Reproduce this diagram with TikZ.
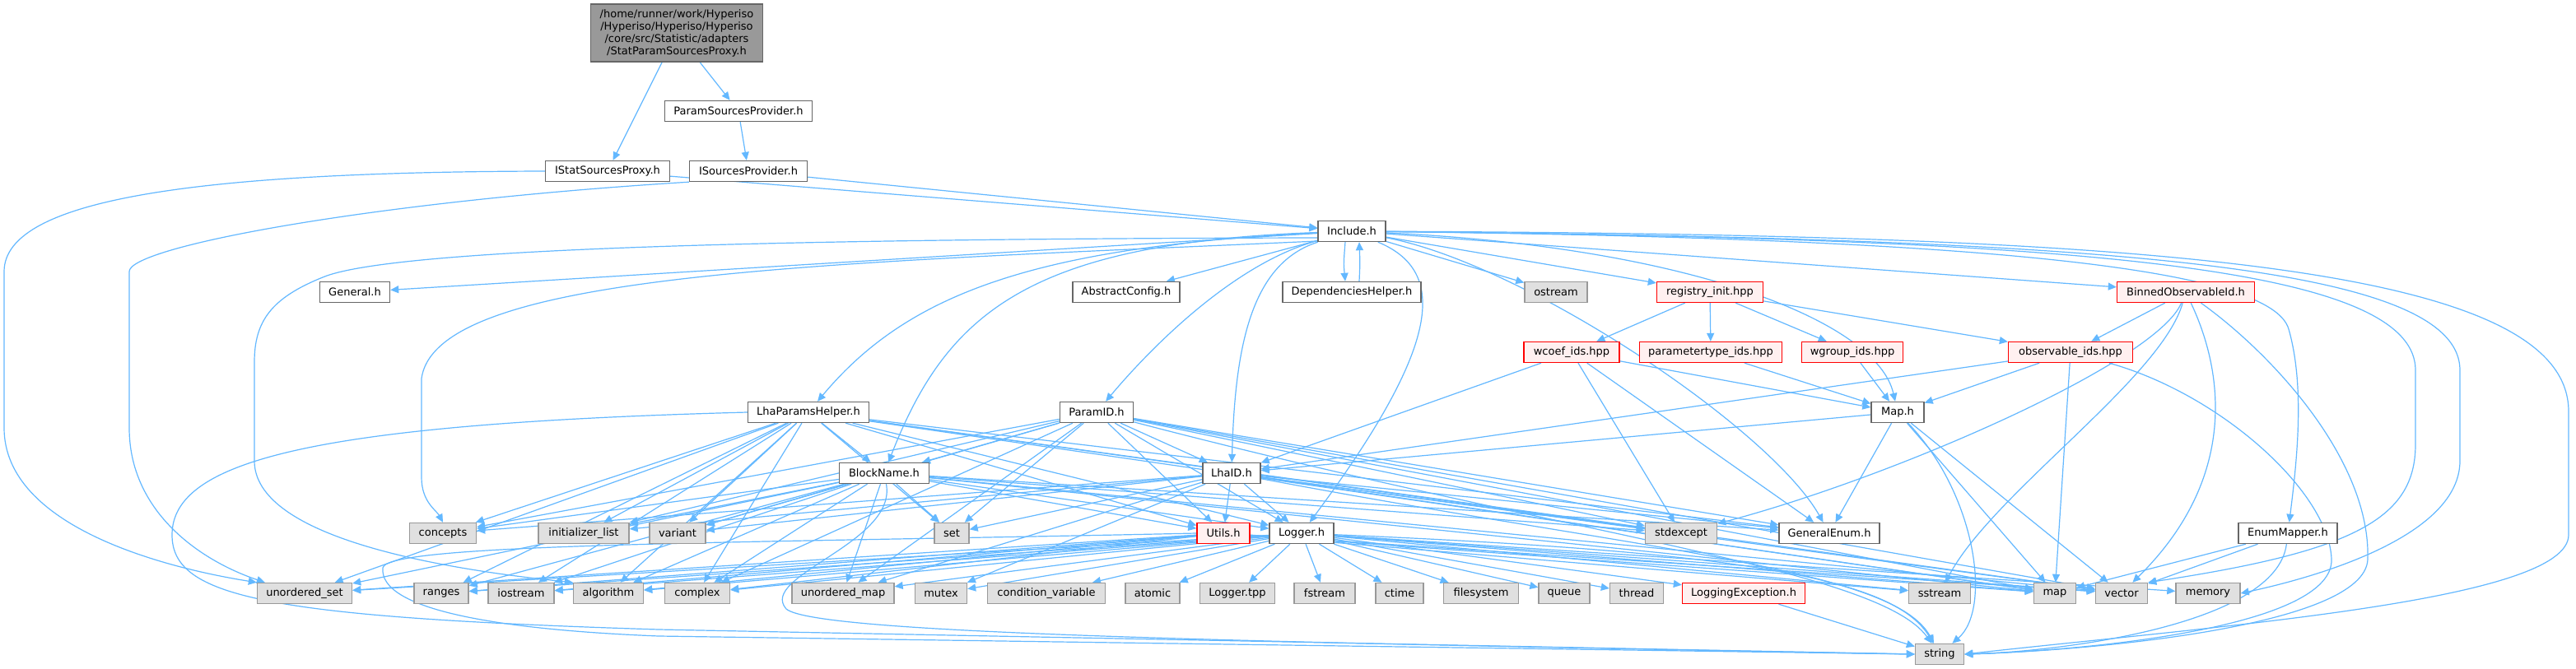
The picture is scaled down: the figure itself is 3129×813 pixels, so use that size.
\documentclass[tikz,border=0pt]{standalone}
\usepackage{fontspec}
\setmainfont{DejaVu Sans}
\usetikzlibrary{arrows.meta}
\definecolor{edgec}{HTML}{63B8FF}
\definecolor{ndborder}{HTML}{666666}
\definecolor{extfill}{HTML}{E0E0E0}
\definecolor{extborder}{HTML}{999999}
\definecolor{redfill}{HTML}{FFF0F0}
\definecolor{redborder}{HTML}{FF0000}
\definecolor{rootfill}{HTML}{999999}
\pgfdeclarelayer{back}
\pgfdeclarelayer{edges}
\pgfsetlayers{back,edges,main}
\tikzset{
  base/.style={rectangle, inner sep=0pt, minimum height=12.5pt, font=\fontsize{6.5pt}{7.5pt}\selectfont, line width=0.7pt},
  nd/.style={base, draw=ndborder, fill=white},
  ext/.style={base, draw=extborder, fill=extfill},
  rd/.style={base, draw=redborder, fill=redfill},
  rootnd/.style={base, draw=ndborder, fill=rootfill, minimum height=35pt, align=center},
  wd/.style={minimum width=#1*0.5pt},
  e/.style={draw=edgec, line width=0.6pt, -{Triangle[length=5pt,width=4.5pt]}}
}
\begin{document}
\begin{tikzpicture}[x=0.5pt,y=-0.5pt]
\begin{pgfonlayer}{back}
\fill[white] (0,0) rectangle (3129,813);
\end{pgfonlayer}
\useasboundingbox (0,0) rectangle (3129,813);

% rank 0-3
\node[rootnd, wd=209] (root) at (822,40) {/home/runner/work/Hyperiso\\/Hyperiso/Hyperiso/Hyperiso\\/core/src/Statistic/adapters\\/StatParamSourcesProxy.h};
\node[nd, wd=179] (psp) at (897,135) {ParamSourcesProvider.h};
\node[nd, wd=151] (isp) at (738,208) {IStatSourcesProxy.h};
\node[nd, wd=143] (isrc) at (909,208) {ISourcesProvider.h};
\node[nd, wd=82] (inc) at (1642,281) {Include.h};
% rank 4
\node[nd, wd=85] (gen) at (431,355) {General.h};
\node[nd, wd=130] (abs) at (1368,355) {AbstractConfig.h};
\node[nd, wd=168] (dep) at (1642,355) {DependenciesHelper.h};
\node[ext, wd=76] (ost) at (1890,355) {ostream};
\node[rd, wd=129] (reg) at (2077,355) {registry\_init.hpp};
\node[rd, wd=167] (bin) at (2655,355) {BinnedObservableId.h};
% rank 5
\node[rd, wd=116] (wco) at (1909,428) {wcoef\_ids.hpp};
\node[rd, wd=173] (pty) at (2078,428) {parametertype\_ids.hpp};
\node[rd, wd=123] (wgr) at (2250,428) {wgroup\_ids.hpp};
\node[rd, wd=151] (obs) at (2515,428) {observable\_ids.hpp};
% rank 6
\node[nd, wd=147] (lph) at (982,501) {LhaParamsHelper.h};
\node[nd, wd=89] (pid) at (1332,501) {ParamID.h};
\node[nd, wd=64] (maph) at (2305,501) {Map.h};
% rank 7
\node[nd, wd=109] (bn) at (1074,575) {BlockName.h};
\node[nd, wd=70] (lid) at (1496,575) {LhaID.h};
% rank 8
\node[ext, wd=81] (conc) at (538,648) {concepts};
\node[ext, wd=110] (init) at (709,648) {initializer\_list};
\node[ext, wd=68] (var) at (823,648) {variant};
\node[ext, wd=42] (set) at (1156,648) {set};
\node[rd, wd=64] (utl) at (1486,648) {Utils.h};
\node[nd, wd=78] (lg) at (1581,648) {Logger.h};
\node[ext, wd=87] (stdx) at (2042,648) {stdexcept};
\node[nd, wd=122] (genum) at (2222,648) {GeneralEnum.h};
\node[nd, wd=120] (enm) at (2779,648) {EnumMapper.h};
% rank 9
\node[ext, wd=115] (useT) at (370,721) {unordered\_set};
\node[ext, wd=66] (rng) at (536,721) {ranges};
\node[ext, wd=80] (ios) at (633,721) {iostream};
\node[ext, wd=85] (alg) at (739,721) {algorithm};
\node[ext, wd=79] (cpx) at (847,721) {complex};
\node[ext, wd=124] (umap) at (1024,721) {unordered\_map};
\node[ext, wd=63] (mtx) at (1143,721) {mutex};
\node[ext, wd=143] (cv) at (1271,721) {condition\_variable};
\node[ext, wd=66] (atm) at (1400,721) {atomic};
\node[ext, wd=91] (ltpp) at (1503,721) {Logger.tpp};
\node[ext, wd=74] (fst) at (1609,721) {fstream};
\node[ext, wd=58] (ctm) at (1700,721) {ctime};
\node[ext, wd=91] (fs) at (1799,721) {filesystem};
\node[ext, wd=62] (que) at (1900,721) {queue};
\node[ext, wd=65] (thr) at (1988,721) {thread};
\node[rd, wd=149] (lex) at (2118,721) {LoggingException.h};
\node[ext, wd=75] (sst) at (2356,721) {sstream};
\node[ext, wd=51] (mp) at (2496,721) {map};
\node[ext, wd=63] (vec) at (2577,721) {vector};
\node[ext, wd=78] (mem) at (2682,721) {memory};
% rank 10
\node[ext, wd=59] (str) at (2356,795) {string};

\begin{pgfonlayer}{edges}
\foreach \a/\b in {root/isp, root/psp, psp/isrc, isp/inc, isrc/inc, inc/gen, inc/abs, inc/ost, inc/reg, inc/bin,
  reg/wco, reg/pty, reg/wgr, reg/obs,
  wco/lid, wco/maph, wco/genum, wco/stdx, pty/maph, wgr/maph,
  obs/maph, obs/lid, obs/mp,
  bin/obs,
  maph/genum, maph/lid, maph/mp, maph/vec,
  enm/mp, enm/vec,
  lph/bn, lph/var, lph/set, lph/utl, lph/lg, lph/conc, lph/init, lph/useT, lph/rng, lph/ios, lph/alg, lph/cpx, lph/stdx, lph/genum, lph/mp, lph/vec,
  pid/bn, pid/lid, pid/utl, pid/set, pid/lg, pid/conc, pid/init, pid/var, pid/umap, pid/stdx, pid/genum, pid/mp, pid/vec, pid/cpx,
  bn/conc, bn/init, bn/var, bn/set, bn/utl, bn/lg, bn/useT, bn/rng, bn/ios, bn/alg, bn/cpx, bn/stdx, bn/genum, bn/mp, bn/vec, bn/umap,
  lid/utl, lid/lg, lid/set, lid/conc, lid/init, lid/var, lid/stdx, lid/genum, lid/mtx, lid/umap, lid/mp, lid/vec,
  utl/useT, utl/rng, utl/ios, utl/alg, utl/cpx, utl/mp, utl/vec, utl/sst,
  lg/useT, lg/rng, lg/ios, lg/alg, lg/cpx, lg/umap, lg/mtx, lg/cv, lg/atm, lg/ltpp, lg/fst, lg/ctm, lg/fs, lg/que, lg/thr, lg/lex, lg/sst, lg/mp, lg/vec, lg/mem,
  lex/str}
  \draw[e] (\a) -- (\b);

% curved connectors
\draw[e] (isp.west) .. controls (250,209) and (5,240) .. (5,330) -- (5,520) .. controls (5,640) and (200,690) .. (useT.north west);
\draw[e] (isrc.south west) .. controls (450,245) and (157,300) .. (157,330) -- (157,520) .. controls (157,620) and (240,680) .. ([xshift=5pt]useT.north west);
\draw[e] ([yshift=-4pt]inc.west) .. controls (1000,290) and (480,300) .. (392,337) .. controls (330,362) and (309,390) .. (309,440) -- (309,560) .. controls (309,650) and (520,690) .. (alg.north west);
\draw[e] ([yshift=-6pt]inc.west) .. controls (1000,320) and (530,330) .. (512,460) -- (512,580) .. controls (512,610) and (530,620) .. (conc.north);
\draw[e] (inc) .. controls (1520,320) and (1500,420) .. (lid);
\draw[e] (inc) .. controls (1500,320) and (1400,420) .. (pid);
\draw[e] (inc) .. controls (1250,295) and (1150,380) .. (bn);
\draw[e] (inc) .. controls (1250,300) and (1100,360) .. (lph);
\draw[e] (inc) .. controls (1760,330) and (1750,420) .. (lg);
\draw[e] (inc) .. controls (1850,320) and (2150,520) .. (genum);
\draw[e] (inc) .. controls (2050,300) and (2280,390) .. (maph);
\draw[e] (inc) .. controls (2450,290) and (2760,330) .. (2780,400) .. controls (2800,470) and (2790,560) .. (enm);
\draw[e] (inc) .. controls (2500,290) and (2934,320) .. (2934,450) -- (2934,540) .. controls (2934,630) and (2860,670) .. (vec.north east);
\draw[e] (inc) .. controls (2550,290) and (2988,320) .. (2988,450) -- (2988,560) .. controls (2988,650) and (2820,700) .. (mem.east);
\draw[e] (inc) .. controls (2600,285) and (3120,320) .. (3120,500) -- (3120,650) .. controls (3120,730) and (2700,760) .. (str.east);
\draw[e] ([xshift=-4pt]inc.south) .. controls ([xshift=-5pt]inc.south |- 0,320) .. ([xshift=-4pt]dep.north);
\draw[e] ([xshift=4.5pt]dep.north) .. controls ([xshift=5pt]dep.north |- 0,320) .. ([xshift=4.5pt]inc.south);
\draw[e] (bin) .. controls (2620,440) and (2300,580) .. (stdx);
\draw[e] (bin) .. controls (2625,460) and (2420,600) .. (sst);
\draw[e] (bin) .. controls (2700,450) and (2720,580) .. (vec);
\draw[e] (bin) .. controls (2760,430) and (2880,560) .. (2876,680) .. controls (2872,760) and (2550,790) .. (str.east);
\draw[e] (obs) .. controls (2700,480) and (2830,600) .. (2832,680) .. controls (2834,760) and (2550,790) .. (str.east);
\draw[e] (enm) .. controls (2765,760) and (2500,792) .. (str.east);
\draw[e] (maph) .. controls (2400,600) and (2420,740) .. (str);
\draw[e] (pid) .. controls (1900,650) and (2280,690) .. (str);
\draw[e] (lid) .. controls (2000,670) and (2300,690) .. (str);
\draw[e] (lph.west) .. controls (380,515) and (209,560) .. (209,650) .. controls (209,725) and (320,750) .. (800,765) -- (str.west);
\draw[e] (bn) .. controls (1090,660) and (920,700) .. (955,740) .. controls (990,770) and (1500,780) .. (str.west);
\draw[e] (utl.west) .. controls (900,660) and (470,660) .. (465,690) .. controls (460,740) and (600,765) .. (800,773) -- (str.west);
\draw[e] (lg) .. controls (2100,670) and (2300,700) .. (str);
\end{pgfonlayer}
\end{tikzpicture}
\end{document}
